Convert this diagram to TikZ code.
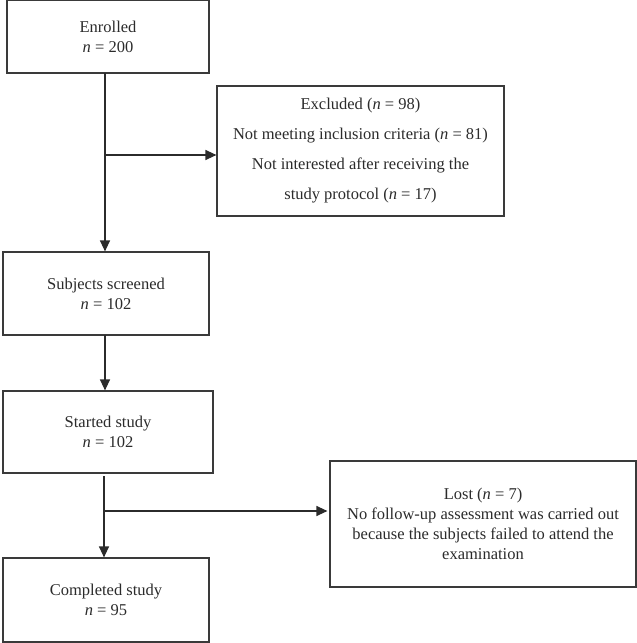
\documentclass[tikz,border=0pt]{standalone}
\usepackage{fontspec}
\setmainfont{Liberation Serif}
\usetikzlibrary{arrows.meta}
\definecolor{ink}{HTML}{2B2B2B}
\definecolor{frame}{HTML}{3A3A3A}
\begin{document}
\begin{tikzpicture}[x=1pt,y=-1pt,
  box/.style={draw=frame,line width=1.2pt,align=center,inner sep=0pt,text=ink,
    font=\fontsize{16.5}{20}\selectfont},
  flow/.style={draw=ink,line width=1.3pt,-{Triangle[length=11pt,width=10pt]}},
  plain/.style={draw=ink,line width=1.3pt}]
\useasboundingbox (0,0) rectangle (637,643);
\node[box,minimum width=202pt,minimum height=73pt] (enr) at (108,36.5) {Enrolled\\\textit{n} = 200};
\node[box,minimum width=287pt,minimum height=130pt,font=\fontsize{16.5}{30}\selectfont] (exc) at (360.5,151)
  {Excluded (\textit{n} = 98)\\Not meeting inclusion criteria (\textit{n} = 81)\\Not interested after receiving the\\study protocol (\textit{n} = 17)};
\node[box,minimum width=206pt,minimum height=83pt] (scr) at (106,293.5) {Subjects screened\\\textit{n} = 102};
\node[box,minimum width=210pt,minimum height=82pt] (sta) at (108,432) {Started study\\\textit{n} = 102};
\node[box,minimum width=306pt,minimum height=126pt] (lost) at (483,524)
  {Lost (\textit{n} = 7)\\No follow-up assessment was carried out\\because the subjects failed to attend the\\examination};
\node[box,minimum width=206pt,minimum height=84pt] (comp) at (106,600) {Completed study\\\textit{n} = 95};
% connectors
\coordinate (a1) at (105,73);
\coordinate (a2) at (105,155);
\coordinate (c1) at (105,335);
\coordinate (b1) at (104,476);
\coordinate (b2) at (104,511);
\draw[flow] (a1) -- (a1 |- scr.north);
\draw[flow] (a2) -- (a2 -| exc.west);
\draw[flow] (c1) -- (c1 |- sta.north);
\draw[flow] (b1) -- (b1 |- comp.north);
\draw[flow,shorten >=2pt] (b2) -- (b2 -| lost.west);
\end{tikzpicture}
\end{document}
